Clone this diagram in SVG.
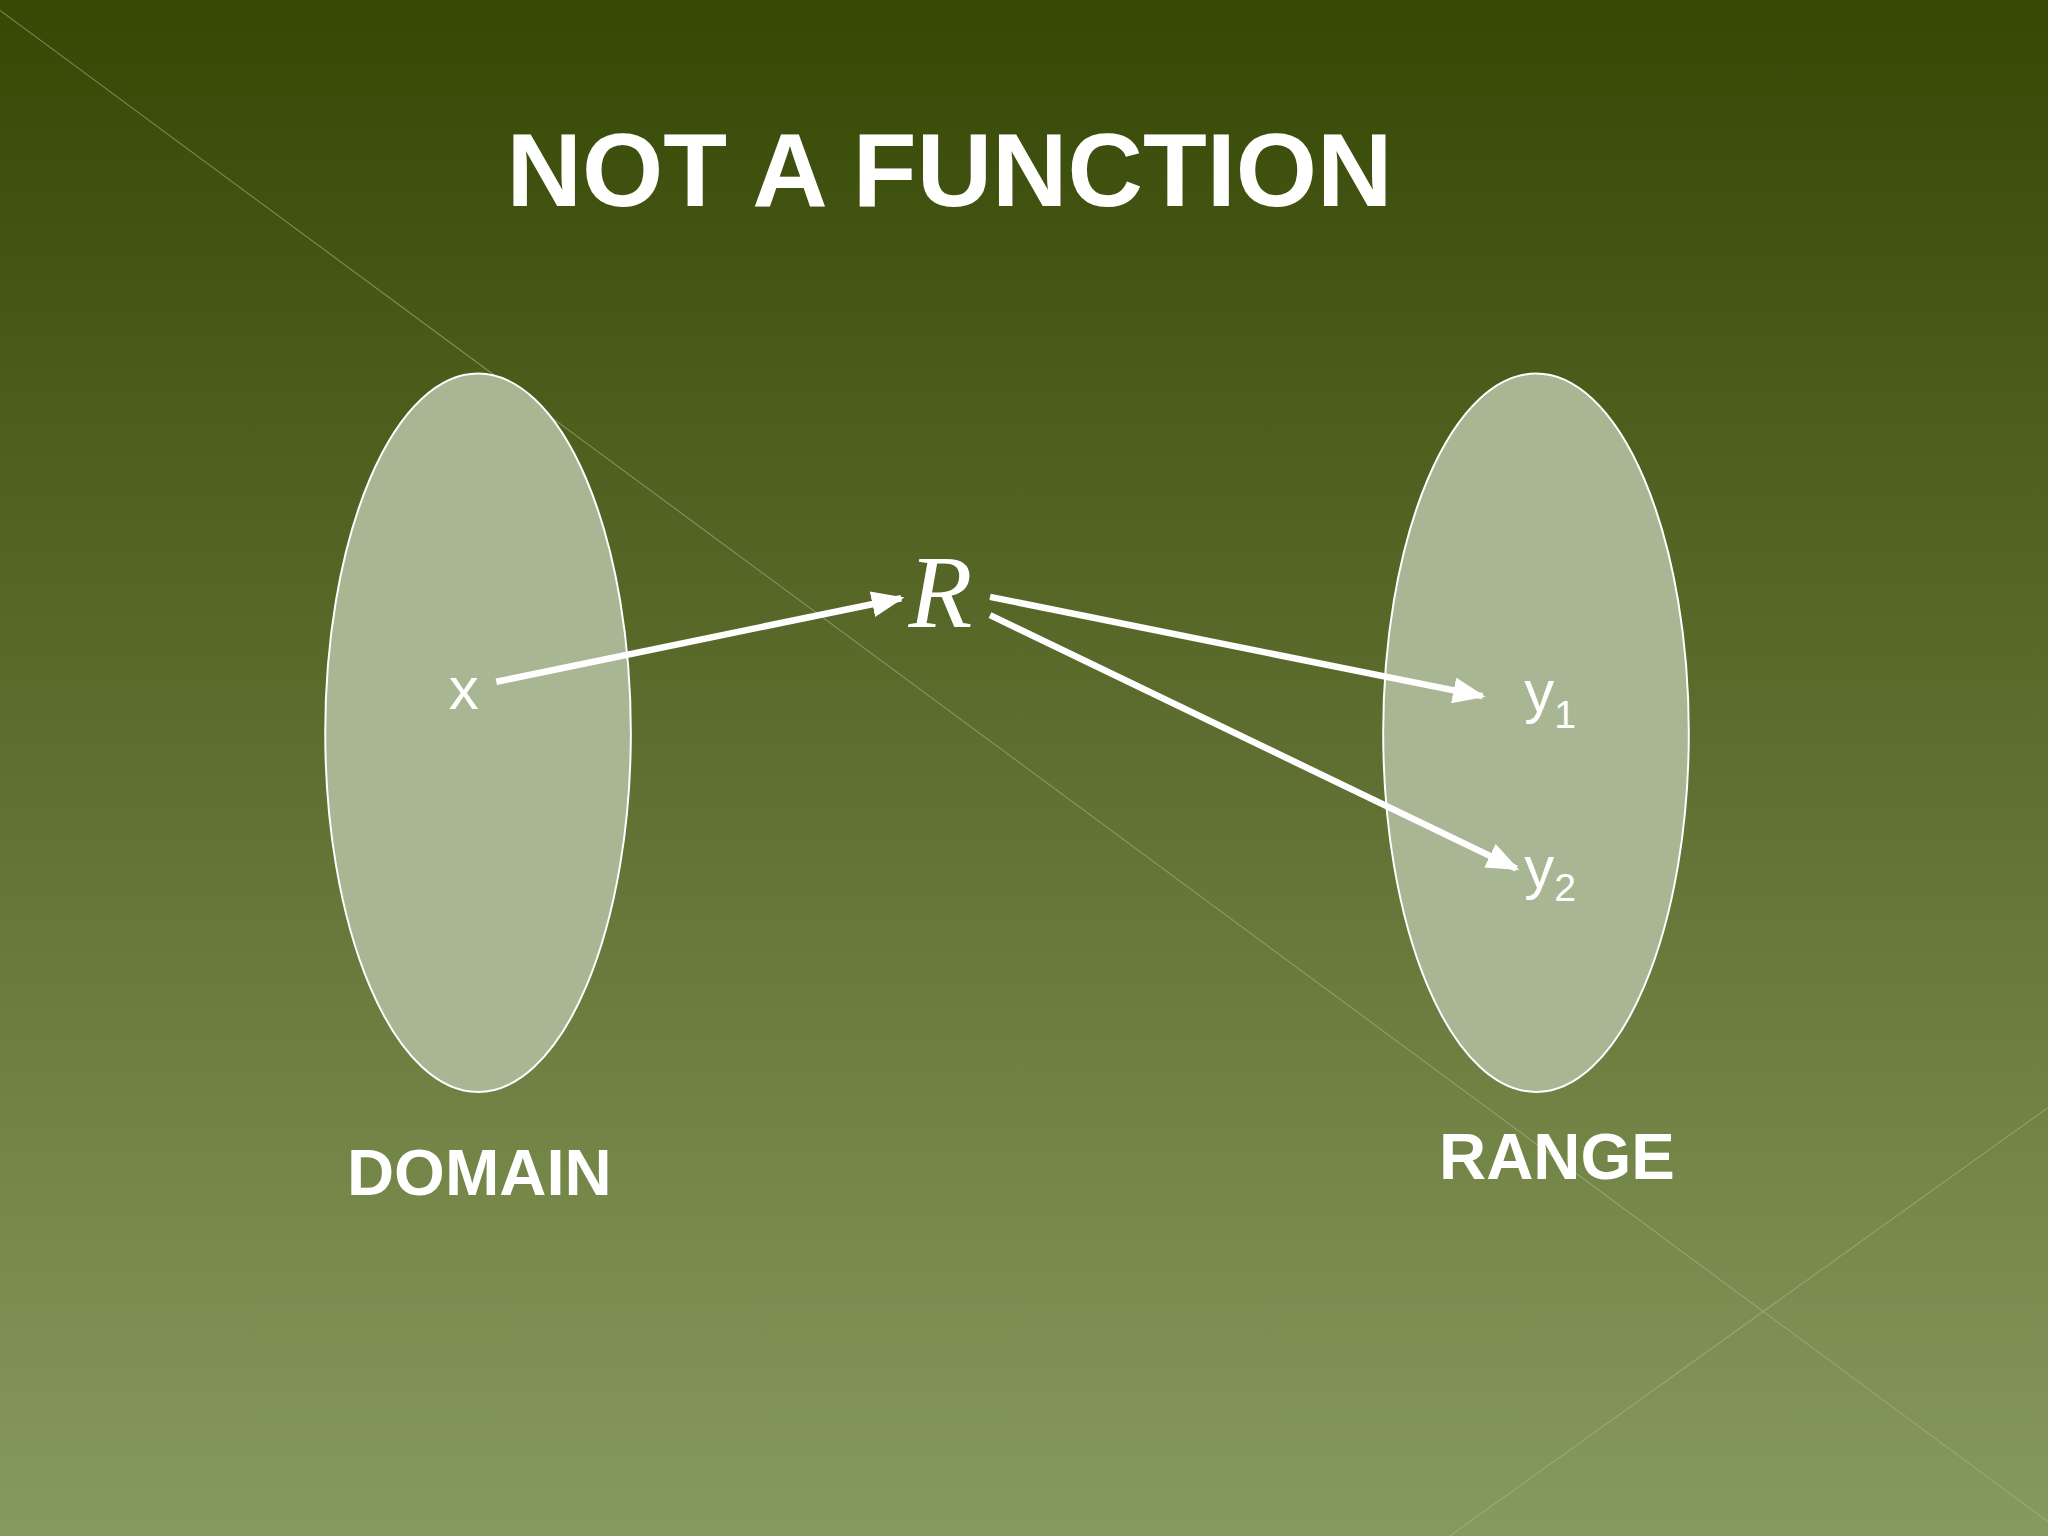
<svg xmlns="http://www.w3.org/2000/svg" width="2048" height="1536" viewBox="0 0 2048 1536">
<defs>
<linearGradient id="bg" x1="0" y1="0" x2="0" y2="1">
<stop offset="0" stop-color="#364804"/>
<stop offset="0.5" stop-color="#5f6f31"/>
<stop offset="1" stop-color="#879a5d"/>
</linearGradient>
<marker id="ah" markerWidth="5" markerHeight="4" refX="4.5" refY="2" orient="auto" markerUnits="strokeWidth">
<path d="M0,0 L5,2 L0,4 Z" fill="#fff"/>
</marker>
<style>
.set{fill:#a9b694;stroke:#fff;stroke-width:1.5}
.lbl{font-family:"Liberation Sans",Arial,sans-serif;font-weight:bold;fill:#fff}
.t{font-family:"Liberation Sans",Arial,sans-serif;fill:#fff}
.arr{stroke:#fff;stroke-width:5;fill:none;marker-end:url(#ah)}
</style>
</defs>
<rect width="2048" height="1536" fill="url(#bg)"/>
<g transform="scale(1.30612)">
<g id="decor" stroke="#a9b88a" stroke-width="0.8" opacity="0.6">
<line x1="0" y1="8" x2="1568" y2="1165"/>
<line x1="1110" y1="1176" x2="1568" y2="848"/>
</g>
<g id="domain"><ellipse class="set" cx="366" cy="561" rx="117" ry="275"/>
<text class="t" x="355" y="543" font-size="46" text-anchor="middle">x</text>
<text class="lbl" x="367" y="915" font-size="50" text-anchor="middle">DOMAIN</text></g>
<g id="range"><ellipse class="set" cx="1176" cy="561" rx="117" ry="275"/>
<text class="t" x="1167" y="545" font-size="46">y<tspan font-size="30" dy="12">1</tspan></text>
<text class="t" x="1167" y="680" font-size="46">y<tspan font-size="30" dy="10">2</tspan></text>
<text class="lbl" x="1192" y="903" font-size="50" text-anchor="middle">RANGE</text></g>
<g id="title"><text class="lbl" x="727" y="158" font-size="80" text-anchor="middle">NOT A FUNCTION</text></g>
<g id="relation"><text x="720" y="480" font-family="Liberation Serif,serif" font-style="italic" font-size="80" fill="#fff" text-anchor="middle">R</text></g>
<g id="connectors">
<line class="arr" x1="380" y1="522" x2="690" y2="458"/>
<line class="arr" x1="758" y1="457" x2="1135" y2="533"/>
<line class="arr" x1="758" y1="471" x2="1161" y2="665"/>
</g>
</g>
</svg>
